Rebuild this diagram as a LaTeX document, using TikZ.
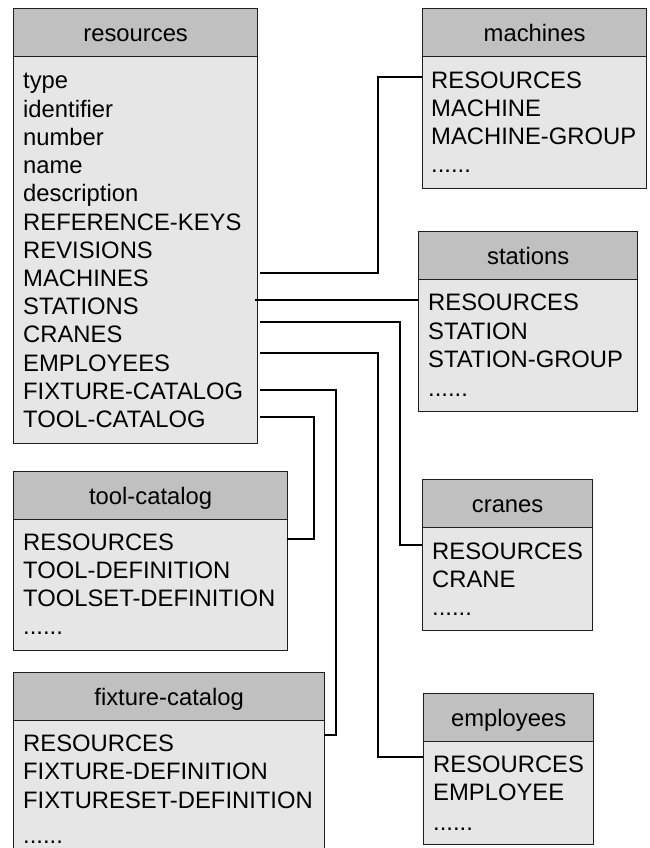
\documentclass[tikz,border=0pt]{standalone}
\usepackage{fontspec}
\setmainfont{Liberation Sans}
\newcommand{\tfont}{\fontsize{23.8}{28}\selectfont}
\newcommand{\sixdots}{......}
\definecolor{bordc}{HTML}{1E1E1E}
\definecolor{hdrc}{HTML}{C0C0C0}
\definecolor{bodyc}{HTML}{E6E6E6}
\begin{document}
\begin{tikzpicture}[x=1pt,y=-1pt,
  hdr/.style={draw=bordc, line width=1.3pt, fill=hdrc, minimum height=48pt,
    inner sep=0pt, text height=17pt, text depth=0pt, font=\tfont, anchor=north west},
  bodybox/.style={draw=bordc, line width=1.3pt, fill=bodyc, inner sep=0pt, anchor=north west},
  item/.style={anchor=base west, inner sep=0pt, font=\tfont},
  conn/.style={line width=2pt, draw=black}]
\useasboundingbox (0,0) rectangle (650,848);
\clip (0,0) rectangle (650,848);

% ---------- resources ----------
\node[bodybox, minimum width=244pt, minimum height=387pt] (resB) at (13,56) {};
\node[hdr, minimum width=244pt] (resH) at (13,8) {resources};
\foreach \t [count=\i] in {type,identifier,number,name,description,REFERENCE-KEYS,REVISIONS,MACHINES,STATIONS,CRANES,EMPLOYEES,FIXTURE-CATALOG,TOOL-CATALOG}
  \node[item] (res-\i) at (23,{89+(\i-1)*28.2}) {\t};

% ---------- machines ----------
\node[bodybox, minimum width=224pt, minimum height=132pt] (macB) at (422,56) {};
\node[hdr, minimum width=224pt] (macH) at (422,8) {machines};
\foreach \t [count=\i] in {RESOURCES,MACHINE,MACHINE-GROUP,\sixdots}
  \node[item] (mac-\i) at (431,{88.3+(\i-1)*28.2}) {\t};

% ---------- stations ----------
\node[bodybox, minimum width=219pt, minimum height=133pt] (staB) at (418,278) {};
\node[hdr, minimum width=219pt] (staH) at (418,231) {stations};
\foreach \t [count=\i] in {RESOURCES,STATION,STATION-GROUP,\sixdots}
  \node[item] (sta-\i) at (428,{310.5+(\i-1)*28.6}) {\t};

% ---------- tool-catalog ----------
\node[bodybox, minimum width=274pt, minimum height=132pt] (tooB) at (13,518) {};
\node[hdr, minimum width=274pt] (tooH) at (13,471) {tool-catalog};
\foreach \t [count=\i] in {RESOURCES,TOOL-DEFINITION,TOOLSET-DEFINITION,\sixdots}
  \node[item] (too-\i) at (23,{550+(\i-1)*28.3}) {\t};

% ---------- fixture-catalog ----------
\node[bodybox, minimum width=311pt, minimum height=150pt] (fixB) at (13,719) {};
\node[hdr, minimum width=311pt] (fixH) at (13,672) {fixture-catalog};
\node[item] (fix-1) at (23,751) {RESOURCES};
\node[item] (fix-2) at (23,779) {FIXTURE-DEFINITION};
\node[item] (fix-3) at (23,808) {FIXTURESET-DEFINITION};
\node[item] (fix-4) at (23,843) {\sixdots};

% ---------- cranes ----------
\node[bodybox, minimum width=170pt, minimum height=103pt] (craB) at (422,527) {};
\node[hdr, minimum width=170pt] (craH) at (422,479) {cranes};
\foreach \t [count=\i] in {RESOURCES,CRANE,\sixdots}
  \node[item] (cra-\i) at (432,{559+(\i-1)*28.2}) {\t};

% ---------- employees ----------
\node[bodybox, minimum width=170pt, minimum height=103pt] (empB) at (423,741) {};
\node[hdr, minimum width=170pt] (empH) at (423,693) {employees};
\node[item] (emp-1) at (433,772) {RESOURCES};
\node[item] (emp-2) at (433,800) {EMPLOYEE};
\node[item] (emp-3) at (433,830) {\sixdots};

% ---------- connectors ----------
\coordinate (sMac) at (260,273);  \coordinate (bMac) at (378,77);  \coordinate (eMac) at (422,77);
\coordinate (sSta) at (255,300);  \coordinate (eSta) at (418,300);
\coordinate (sCra) at (260,322);  \coordinate (bCra) at (400,545); \coordinate (eCra) at (422,545);
\coordinate (sEmp) at (260,353);  \coordinate (bEmp) at (378,757); \coordinate (eEmp) at (423,757);
\coordinate (sFix) at (260,390);  \coordinate (bFix) at (336,735); \coordinate (eFix) at (324,735);
\coordinate (sToo) at (260,417);  \coordinate (bToo) at (314,539); \coordinate (eToo) at (287,539);

\draw[conn] (sMac) -| (bMac) -- (eMac);
\draw[conn] (sSta) -- (eSta);
\draw[conn] (sCra) -| (bCra) -- (eCra);
\draw[conn] (sEmp) -| (bEmp) -- (eEmp);
\draw[conn] (sFix) -| (bFix) -- (eFix);
\draw[conn] (sToo) -| (bToo) -- (eToo);
\end{tikzpicture}
\end{document}
